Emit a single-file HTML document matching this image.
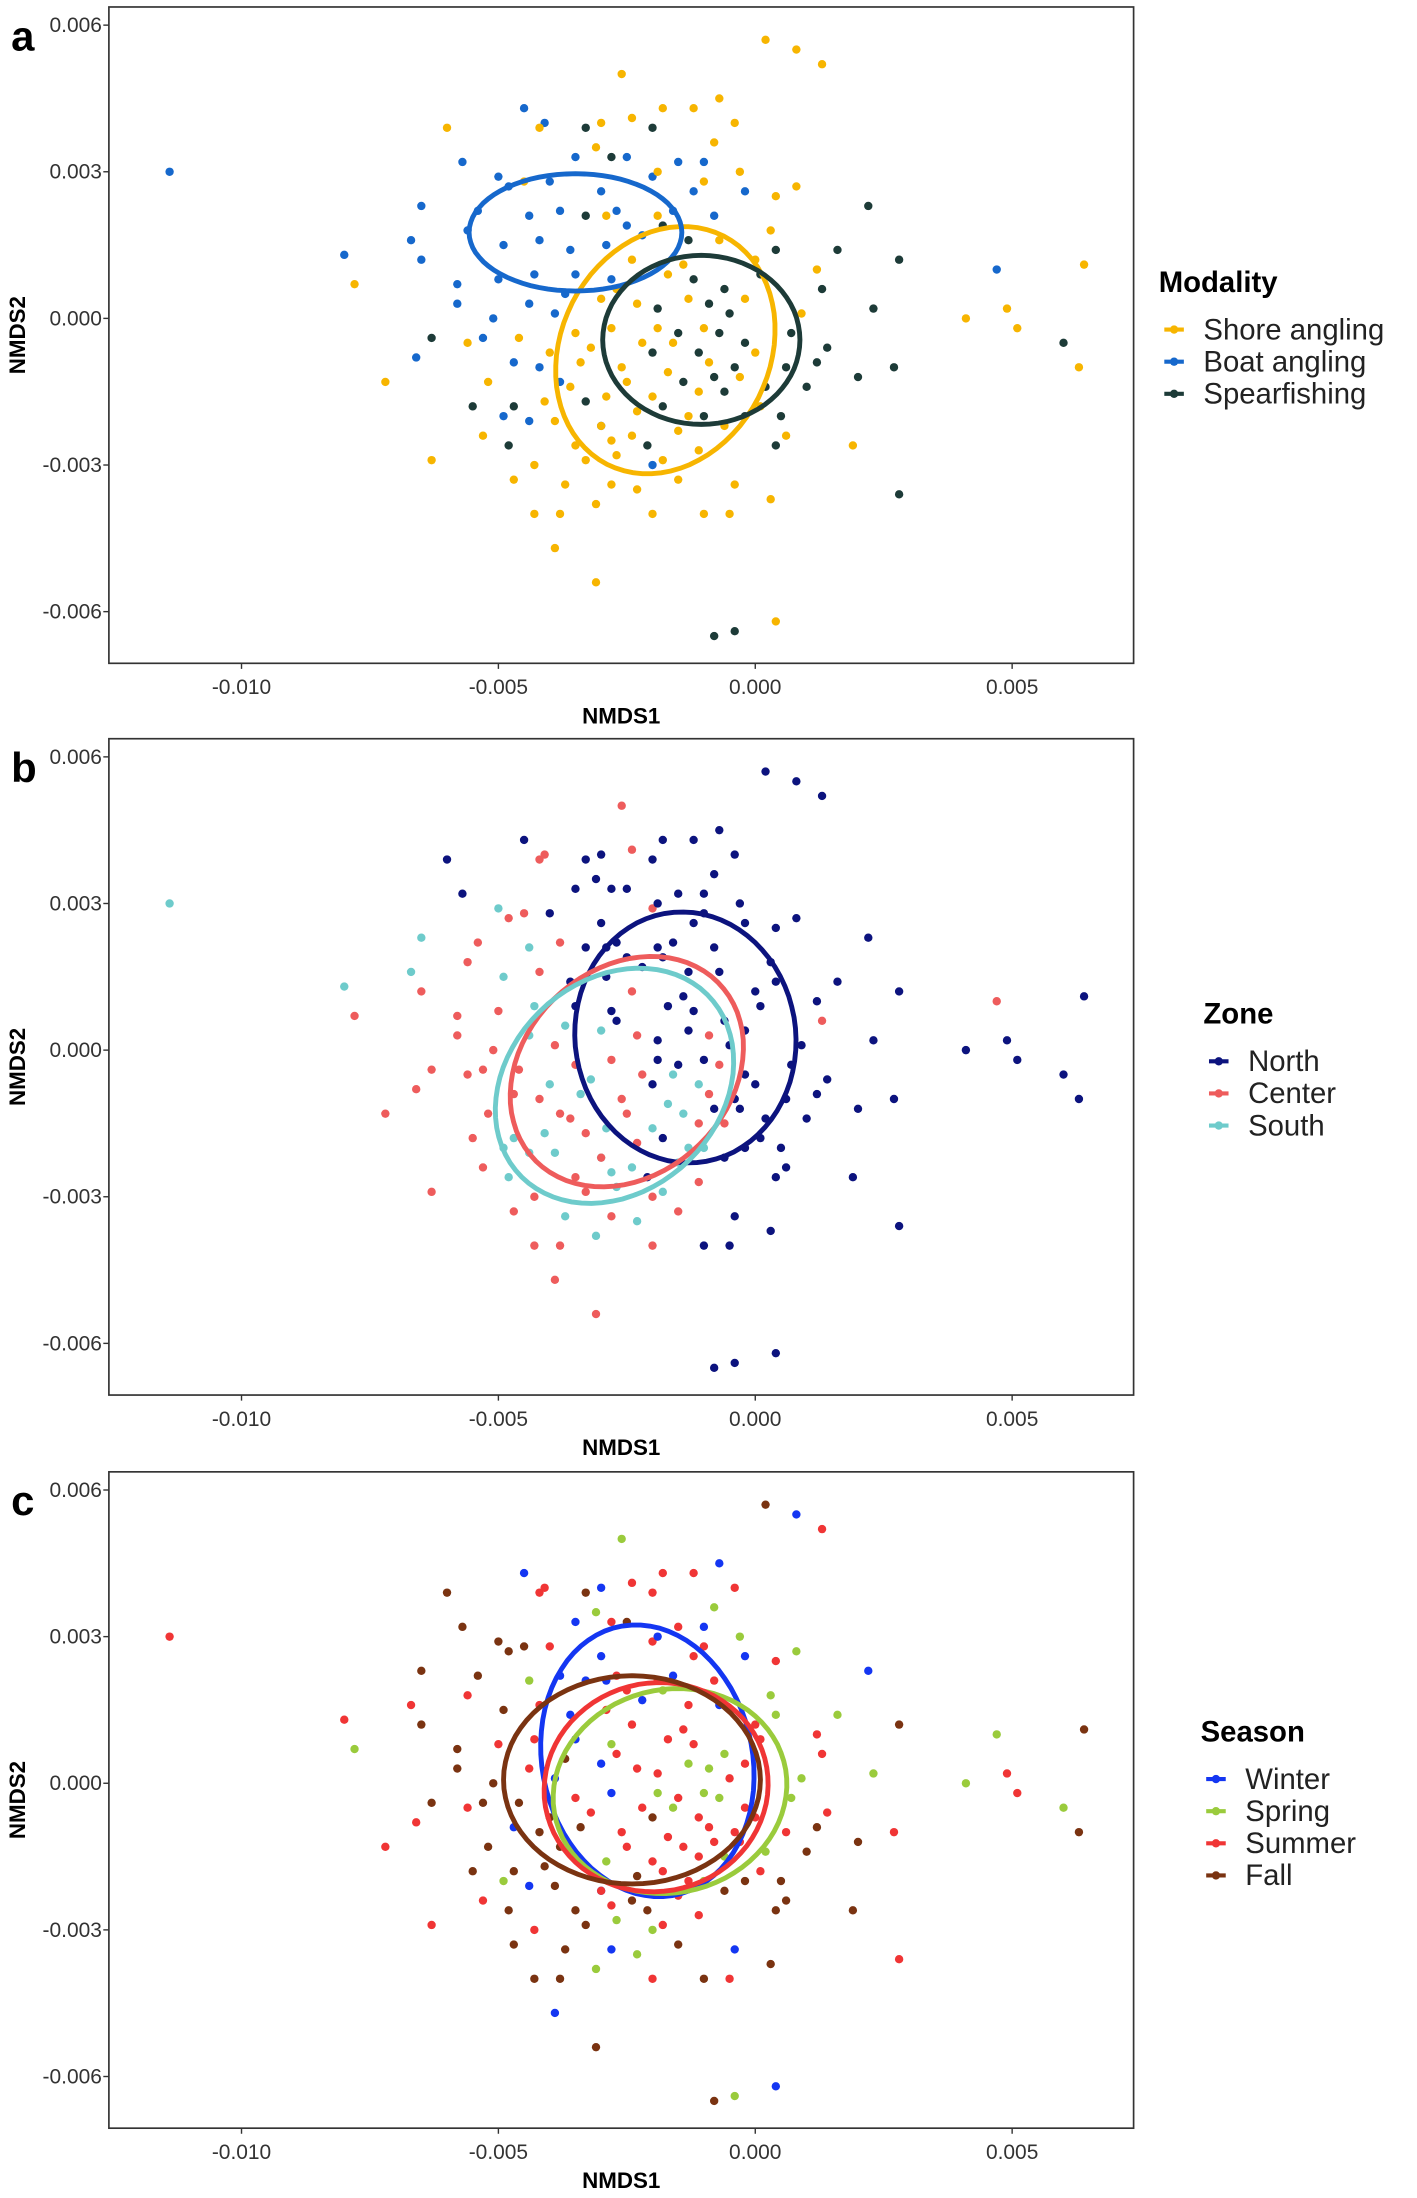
<!DOCTYPE html>
<html><head><meta charset="utf-8"><style>
html,body{margin:0;padding:0;background:#fff}
svg{display:block;font-family:"Liberation Sans",Arial,sans-serif}
</style></head><body>
<svg id="chart" width="1417" height="2198" viewBox="0 0 1015 1574" preserveAspectRatio="none" xmlns="http://www.w3.org/2000/svg"></svg>
<script>
const xTicks=[-0.010,-0.005,0.000,0.005];
const xTickLabels=["-0.010","-0.005","0.000","0.005"];
const yTicks=[0.006,0.003,0.000,-0.003,-0.006];
const yTickLabels=["0.006","0.003","0.000","-0.003","-0.006"];
// points: x (×0.001), y (×0.001), modality, zone, season
const pts=`-11.4,3.0,B,S,Su
-8.0,1.3,B,S,Su
-7.8,0.7,S,C,Sp
4.1,0.0,S,N,Sp
4.7,1.0,B,C,Sp
4.9,0.2,S,N,Su
5.1,-0.2,S,N,Su
6.0,-0.5,P,N,Sp
6.4,1.1,S,N,F
6.3,-1.0,S,N,F
0.2,5.7,S,N,F
0.8,5.5,S,N,W
1.3,5.2,S,N,Su
-0.8,-6.5,P,N,F
-0.4,-6.4,P,N,Sp
0.4,-6.2,S,N,W
-3.1,-5.4,S,C,F
2.8,-3.6,P,N,Su
-2.6,5.0,S,C,Sp
-5.7,3.2,B,N,F
-4.5,4.3,B,N,W
-4.1,4.0,B,C,Su
-3.5,3.3,B,N,W
-2.5,3.3,B,N,F
-1.5,3.2,B,N,Su
-1.0,3.2,B,N,W
-5.0,2.9,B,S,F
-4.8,2.7,B,C,F
-4.0,2.8,B,N,Su
-3.0,2.6,B,N,W
-2.0,2.9,B,C,Su
-1.2,2.6,B,N,Su
-0.2,2.6,B,N,W
-5.4,2.2,B,C,F
-4.4,2.1,B,S,Sp
-3.8,2.2,B,C,W
-2.7,2.2,B,N,Su
-1.6,2.2,B,N,W
-0.8,2.1,B,N,Su
-6.5,2.3,B,S,F
-5.6,1.8,B,C,Su
-4.9,1.5,B,S,F
-4.2,1.6,B,C,Su
-3.6,1.4,B,N,W
-2.9,1.5,B,N,Su
-2.2,1.7,B,N,W
-6.7,1.6,B,S,Su
-6.5,1.2,B,C,F
-5.8,0.7,B,C,F
-5.0,0.8,B,C,Su
-4.3,0.9,B,S,Su
-3.5,0.9,B,N,W
-2.8,0.8,B,N,Sp
-5.8,0.3,B,C,F
-5.1,0.0,B,C,F
-4.4,0.3,B,S,Su
-3.9,0.1,B,C,W
-5.3,-0.4,B,C,F
-4.7,-0.9,B,C,W
-6.6,-0.8,B,C,Su
-4.4,-2.1,B,S,W
-3.0,-2.2,B,S,W
-2.0,-3.0,B,C,Sp
-3.8,-1.3,B,C,F
-4.9,-2.0,B,S,Sp
-3.3,3.9,P,N,F
-2.8,3.3,P,N,Su
-2.0,3.9,P,N,Su
-3.3,2.1,P,N,W
-1.3,1.6,P,N,Su
-1.8,1.9,P,N,Sp
0.4,1.4,P,N,Sp
1.6,1.4,P,N,Sp
2.2,2.3,P,N,W
2.8,1.2,P,N,F
1.3,0.6,P,C,Su
2.3,0.2,P,N,Sp
-1.2,0.8,P,N,Su
-0.6,0.6,P,N,Sp
0.1,0.9,P,N,Su
-0.9,0.3,P,C,Sp
-1.9,0.2,P,N,Su
-1.5,-0.3,P,N,Su
-0.7,-0.3,P,C,Sp
-0.2,-0.5,P,N,Su
0.7,-0.3,P,N,Sp
-1.1,-0.7,P,S,Su
-2.0,-0.7,P,N,F
-0.4,-1.0,P,N,Su
0.6,-1.0,P,N,Su
1.2,-0.9,P,N,F
1.4,-0.6,P,N,Su
-1.4,-1.3,P,S,Su
-0.6,-1.5,P,C,Sp
0.2,-1.4,P,N,Sp
1.0,-1.4,P,N,F
-1.8,-1.8,P,N,Su
-1.0,-2.0,P,S,Sp
0.5,-2.0,P,N,F
-2.1,-2.6,P,N,F
-3.3,-1.7,P,C,F
-4.7,-1.8,P,S,F
-5.5,-1.8,P,C,F
-4.8,-2.6,P,S,F
-6.3,-0.4,P,C,F
0.4,-2.6,P,N,F
2.0,-1.2,P,N,F
2.7,-1.0,P,N,Su
-6.0,3.9,S,N,F
-4.2,3.9,S,C,Su
-3.0,4.0,S,N,W
-2.4,4.1,S,C,Su
-1.8,4.3,S,N,Su
-1.2,4.3,S,N,Su
-0.7,4.5,S,N,W
-0.4,4.0,S,N,Su
-0.8,3.6,S,N,Sp
-3.1,3.5,S,N,Sp
-1.9,3.0,S,N,W
-1.0,2.8,S,N,Su
-0.3,3.0,S,N,Sp
0.4,2.5,S,N,Su
0.8,2.7,S,N,Sp
-4.5,2.8,S,C,F
-1.9,2.1,S,N,Su
0.3,1.8,S,N,Sp
-0.7,1.6,S,N,W
0.0,1.2,S,N,Su
-2.7,0.6,S,N,Su
-2.3,0.3,S,C,Su
-1.3,0.4,S,N,Sp
-0.2,0.4,S,N,Su
0.9,0.1,S,N,Sp
-3.5,-0.3,S,C,Su
-2.8,-0.2,S,C,W
-2.2,-0.5,S,C,Su
-1.6,-0.5,S,S,Sp
-0.9,-0.9,S,C,Su
0.0,-0.7,S,N,Su
-3.4,-0.9,S,S,F
-2.6,-1.0,S,C,Su
-1.7,-1.1,S,S,Su
-0.3,-1.2,S,N,Su
-3.6,-1.4,S,C,Su
-2.9,-1.6,S,S,Sp
-2.0,-1.6,S,S,Su
-1.1,-1.5,S,C,Su
0.1,-1.8,S,N,Su
-3.9,-2.1,S,S,F
-3.0,-2.2,S,C,Su
-2.4,-2.4,S,S,F
-1.5,-2.3,S,S,Su
-0.6,-2.2,S,N,F
0.6,-2.4,S,N,F
-3.3,-2.9,S,C,F
-2.7,-2.8,S,S,Sp
-1.8,-2.9,S,S,Su
-1.1,-2.7,S,C,Su
-4.3,-3.0,S,C,Su
-3.7,-3.4,S,S,F
-2.8,-3.4,S,C,W
-2.3,-3.5,S,S,Sp
-1.5,-3.3,S,C,F
-0.4,-3.4,S,N,W
-4.7,-3.3,S,C,F
-5.3,-2.4,S,C,Su
-4.3,-4.0,S,C,F
-3.8,-4.0,S,C,F
-2.0,-4.0,S,C,Su
-1.0,-4.0,S,N,F
-0.5,-4.0,S,N,Su
0.3,-3.7,S,N,F
-3.1,-3.8,S,S,Sp
-3.9,-4.7,S,C,W
-6.3,-2.9,S,C,Su
-7.2,-1.3,S,C,Su
-5.6,-0.5,S,C,Su
-4.6,-0.4,S,C,F
-5.2,-1.3,S,C,F
-4.1,-1.7,S,S,F
1.9,-2.6,S,N,F
1.2,1.0,S,N,Su
-2.9,2.1,S,N,W
-2.4,1.2,S,C,Su
-1.0,-0.2,S,N,Sp
-1.7,0.9,S,N,Su
-3.0,0.4,S,S,W
-4.0,-0.7,S,S,F
-2.5,-1.3,S,C,Su
-1.3,-2.0,S,S,Su
-0.8,-1.2,P,N,Su
-2.3,-1.9,S,C,F
-3.2,-0.6,S,S,Su
-1.9,-0.2,S,N,Sp
-0.5,0.1,P,N,Su
-3.7,0.5,B,S,F
-2.5,1.9,B,N,Su
-1.4,1.1,S,N,Su
-0.2,-2.0,P,N,F
-2.8,-2.5,S,S,Su
-3.5,-2.6,S,C,F
-4.2,-1.0,B,C,F`;
const ptX=[],ptY=[],ptMod=[],ptZone=[],ptSeason=[];
pts.split("\n").forEach(l=>{const p=l.split(",");ptX.push(+p[0]*0.001);ptY.push(+p[1]*0.001);ptMod.push(p[2]);ptZone.push(p[3]);ptSeason.push(p[4]);});
// ellipses: centerX, centerY, semiA, semiB (×0.001), angle deg
const ellModality={S:[-1.75,-0.65,2.6,2.05,68],B:[-3.5,1.76,2.07,1.2,0],P:[-1.05,-0.44,1.92,1.73,0]};
const ellZone={N:[-1.36,0.26,2.57,2.15,95],C:[-2.5,-0.44,2.55,2.05,50],S:[-2.74,-0.73,2.6,2.1,50]};
const ellSeason={W:[-2.1,0.46,2.8,2.05,100],Sp:[-1.66,-0.16,2.3,2.07,20],Su:[-1.93,-0.08,2.2,2.12,30],F:[-2.4,0.07,2.5,2.13,0]};

const NS="http://www.w3.org/2000/svg";
const svg=document.getElementById("chart");
function mk(tag,attrs,parent){const e=document.createElementNS(NS,tag);for(const k in attrs)e.setAttribute(k,attrs[k]);(parent||svg).appendChild(e);return e;}
const L=78,R=812,X0=541,XS=36800;
function sx(v){return X0+v*XS;}

const panels=[
 {off:0,letter:"a",title:"Modality",key:ptMod,ell:ellModality,lx:830,
  groups:[["S","Shore angling","#f7b500"],["B","Boat angling","#1668cc"],["P","Spearfishing","#1d3b38"]]},
 {off:524,letter:"b",title:"Zone",key:ptZone,ell:ellZone,lx:862,
  groups:[["N","North","#0c137e"],["C","Center","#ee5c5c"],["S","South","#6ecbcb"]]},
 {off:1049,letter:"c",title:"Season",key:ptSeason,ell:ellSeason,lx:860,
  groups:[["W","Winter","#1436f2"],["Sp","Spring","#9acb3c"],["Su","Summer","#f03535"],["F","Fall","#7a3311"]]}
];

panels.forEach((P,pi)=>{
 const top=5+P.off,bot=475+P.off,Y0=228+P.off,YS=35000;
 const sy=v=>Y0-v*YS;
 const g=mk("g",{});
 
 
 const fr=mk("rect",{x:L,y:top,width:R-L,height:bot-top,fill:"#fff",stroke:"#333","stroke-width":1.2},g);
 
 
 const lt=mk("text",{x:8,y:top+31,"font-size":30,"font-weight":"bold",fill:"#000"},g);
 lt.textContent=P.letter;
 
 
 xTicks.forEach((t,i)=>{
  mk("line",{x1:sx(t),x2:sx(t),y1:bot,y2:bot+4,stroke:"#333"},g);
  const tx=mk("text",{x:sx(t),y:bot+22,"font-size":15,"text-anchor":"middle",fill:"#333"},g);
  tx.textContent=xTickLabels[i];
  
  
 });
 yTicks.forEach((t,i)=>{
  mk("line",{x1:L-4,x2:L,y1:sy(t),y2:sy(t),stroke:"#333"},g);
  const tx=mk("text",{x:L-5,y:sy(t)+5,"font-size":15,"text-anchor":"end",fill:"#333"},g);
  tx.textContent=yTickLabels[i];
  
  
 });
 const xt=mk("text",{x:445,y:bot+43,"font-size":16,"font-weight":"bold","text-anchor":"middle"},g);
 xt.textContent="NMDS1";
 
 
 const yt=mk("text",{x:0,y:0,"font-size":16,"font-weight":"bold","text-anchor":"middle",transform:`translate(18,${(top+bot)/2}) rotate(-90)`},g);
 yt.textContent="NMDS2";
 
 
 const colors={};P.groups.forEach(gr=>colors[gr[0]]=gr[2]);
 for(let i=0;i<ptX.length;i++){
  const c=mk("circle",{cx:sx(ptX[i]),cy:sy(ptY[i]),r:3,fill:colors[P.key[i]]},g);
  
  
 }
 P.groups.forEach(gr=>{
  const e=P.ell[gr[0]];const a=e[4]*Math.PI/180;let d="";
  for(let k=0;k<=72;k++){const th=k/72*2*Math.PI;
   const ux=e[2]*Math.cos(th),uy=e[3]*Math.sin(th);
   const dx=(e[0]+ux*Math.cos(a)-uy*Math.sin(a))*0.001,dy=(e[1]+ux*Math.sin(a)+uy*Math.cos(a))*0.001;
   d+=(k?"L":"M")+sx(dx).toFixed(1)+","+sy(dy).toFixed(1);}
  const p=mk("path",{d:d+"Z",fill:"none",stroke:gr[2],"stroke-width":3.5},g);
  
  
 });
 const ly0=(pi===0?202:pi===1?726:1240);
 const tt=mk("text",{x:P.lx,y:ly0+7,"font-size":21,"font-weight":"bold"},g);
 tt.textContent=P.title;
 
 
 P.groups.forEach((gr,j)=>{
  const yy=ly0+34+j*23;
  mk("line",{x1:P.lx+4,x2:P.lx+18,y1:yy,y2:yy,stroke:gr[2],"stroke-width":3},g);
  mk("circle",{cx:P.lx+11,cy:yy,r:3,fill:gr[2]},g);
  const tx=mk("text",{x:P.lx+32,y:yy+7,"font-size":21,fill:"#222"},g);
  tx.textContent=gr[1];
  
  
 });
});
</script>
</body></html>
